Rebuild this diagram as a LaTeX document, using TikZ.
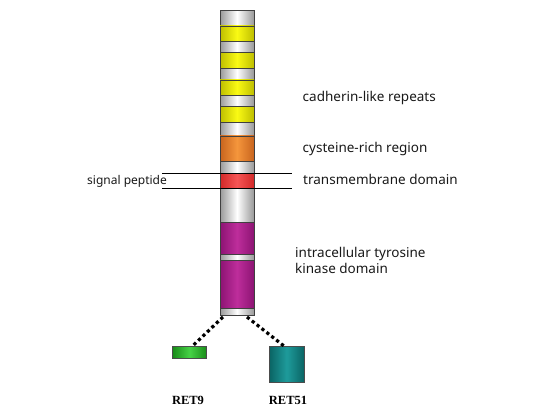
\documentclass[tikz,border=0pt]{standalone}
\usepackage{fontspec}
\setmainfont{Noto Sans}
\newfontfamily\retfont{Liberation Serif}
\definecolor{yedge}{RGB}{190,190,0}
\definecolor{ymid}{RGB}{250,250,20}
\definecolor{oedge}{RGB}{200,100,30}
\definecolor{omid}{RGB}{245,150,60}
\definecolor{redge}{RGB}{210,40,40}
\definecolor{rmid}{RGB}{245,85,85}
\definecolor{medge}{RGB}{140,20,115}
\definecolor{mmid}{RGB}{190,45,155}
\definecolor{gedge}{RGB}{25,140,25}
\definecolor{gmid}{RGB}{70,210,70}
\definecolor{tedge}{RGB}{10,100,100}
\definecolor{tmid}{RGB}{30,155,155}
\begin{document}
\begin{tikzpicture}[x=1pt,y=-1pt,
  seg/.style={draw=black!75, line width=0.7pt, minimum width=34pt, inner sep=0pt, outer sep=0pt},
  cyl/.style 2 args={left color=#1, right color=#1, middle color=#2},
  wseg/.style={seg, cyl={black!40}{white}},
  yseg/.style={seg, cyl={yedge}{ymid}},
  oseg/.style={seg, cyl={oedge}{omid}},
  rseg/.style={seg, cyl={redge}{rmid}},
  mseg/.style={seg, cyl={medge}{mmid}},
  lab/.style={font=\fontsize{13.5}{16}\selectfont, anchor=west, inner sep=0pt, text=black!90},
  retlab/.style={font=\retfont\bfseries\fontsize{12.5}{14}\selectfont, inner sep=0pt},
  dotline/.style={line width=3.2pt, dash pattern=on 3.2pt off 3pt, black}
]
\useasboundingbox (0,0) rectangle (550,412);
\fill[white] (0,0) rectangle (550,412);
% column segments
\newcommand{\sgm}[4]{\node[#3, minimum height={#2-#1}] (#4) at (237,{(#1+#2)/2}) {};}
\sgm{10.7}{26}{wseg}{s1}
\sgm{26}{41.7}{yseg}{s2}
\sgm{41.7}{52.7}{wseg}{s3}
\sgm{52.7}{68.3}{yseg}{s4}
\sgm{68.3}{80}{wseg}{s5}
\sgm{80}{95.7}{yseg}{s6}
\sgm{95.7}{106.7}{wseg}{s7}
\sgm{106.7}{122.3}{yseg}{s8}
\sgm{122.3}{136}{wseg}{s9}
\sgm{136}{161.7}{oseg}{s10}
\sgm{161.7}{173.3}{wseg}{s11}
\sgm{173.3}{188.3}{rseg}{s12}
\sgm{188.3}{222.7}{wseg}{s13}
\sgm{222.7}{254.3}{mseg}{s14}
\sgm{254.3}{260}{wseg}{s15}
\sgm{260}{308.3}{mseg}{s16}
\sgm{308.3}{315}{wseg}{base}
% membrane lines
\coordinate (m1a) at (162,174);
\coordinate (m1b) at (292,174);
\coordinate (m2a) at (162,189);
\coordinate (m2b) at (292,189);
\draw[line width=1pt] (m1a) -- (m1b);
\draw[line width=1pt] (m2a) -- (m2b);
% labels
\node[lab] (tcad) at (302.5,98) {cadherin-like repeats};
\node[lab] (tcys) at (302.5,149) {cysteine-rich region};
\node[lab] (ttm) at (303,179.5) {transmembrane domain};
\node[lab, align=left] (tkin) at (295,260) {intracellular tyrosine\\kinase domain};
\node[lab, font=\fontsize{12}{14}\selectfont] (tsig) at (87,181) {signal peptide};
% isoforms
\node[draw=black!70, line width=0.5pt, minimum width=34pt, minimum height=12.3pt, inner sep=0pt,
      left color=gedge, right color=gedge, middle color=gmid] (ret9) at (189.7,352.2) {};
\node[draw=black!70, line width=0.5pt, minimum width=34.7pt, minimum height=35.7pt, inner sep=0pt,
      left color=tedge, right color=tedge, middle color=tmid] (ret51) at (286.7,363.9) {};
\coordinate (b1) at (223,317);
\coordinate (b2) at (247,317);
\draw[dotline] (b1) -- ([xshift=3pt]ret9.north);
\draw[dotline] (b2) -- ([xshift=-3pt]ret51.north);
\node[retlab] (l9) at (188,400) {RET9};
\node[retlab] (l51) at (288,400) {RET51};
\end{tikzpicture}
\end{document}
